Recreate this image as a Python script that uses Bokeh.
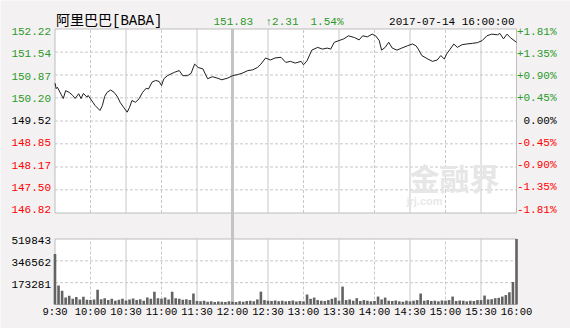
import numpy as np
from bokeh.plotting import figure
from bokeh.models import Range1d
from bokeh.core.properties import value
from bokeh.embed import file_html
from bokeh.resources import INLINE

# ---------------- data ----------------
title_text = "阿里巴巴[BABA]"
last_price_text = "151.83"
change_text = "↑2.31"
change_pct_text = "1.54%"
timestamp_text = "2017-07-14 16:00:00"
prev_close = 149.52

price_ticks = [152.22, 151.54, 150.87, 150.20, 149.52, 148.85, 148.17, 147.50, 146.82]
price_labels = ["152.22", "151.54", "150.87", "150.20", "149.52", "148.85", "148.17", "147.50", "146.82"]
pct_labels = ["+1.81%", "+1.35%", "+0.90%", "+0.45%", "0.00%", "-0.45%", "-0.90%", "-1.35%", "-1.81%"]

vol_ticks = [519843, 346562, 173281]
vol_labels = ["519843", "346562", "173281"]

time_ticks = [0, 30, 60, 90, 120, 150, 180, 210, 240, 270, 300, 330, 360, 390]
time_labels = ["9:30", "10:00", "10:30", "11:00", "11:30", "12:00", "12:30",
               "13:00", "13:30", "14:00", "14:30", "15:00", "15:30", "16:00"]

price_minutes = [0, 1, 2, 7, 9, 12, 15, 17, 20, 22, 24, 27, 28, 32, 34, 38, 40, 42, 44, 47,
                 50, 53, 55, 58, 61, 63, 65, 68, 71, 74, 77, 79, 82, 85, 88, 90, 92, 95, 98, 101,
                 105, 108, 112, 115, 118, 121, 125, 127, 129, 133, 137, 141, 146, 150, 154, 158, 163, 167, 171, 174,
                 178, 182, 186, 191, 195, 199, 203, 208, 210, 213, 217, 222, 226, 230, 233, 236, 240, 244, 248, 253,
                 257, 260, 264, 268, 271, 274, 276, 279, 282, 285, 289, 293, 298, 302, 305, 307, 310, 315, 319, 323,
                 326, 329, 331, 334, 337, 340, 344, 348, 353, 357, 361, 365, 369, 374, 376, 379, 382, 385, 390]
price_values = [150.63, 150.47, 150.51, 150.18, 150.41, 150.36, 150.27, 150.18, 150.32, 150.18,
                150.33, 150.22, 150.27, 150.07, 149.97, 149.83, 149.97, 150.24, 150.36, 150.43,
                150.36, 150.22, 150.07, 149.92, 149.78, 149.92, 150.12, 150.07, 150.17, 150.36,
                150.48, 150.46, 150.66, 150.71, 150.68, 150.56, 150.76, 150.85, 150.90, 150.95,
                151.00, 150.85, 150.85, 150.92, 151.19, 151.09, 151.05, 150.90, 150.76, 150.82,
                150.78, 150.73, 150.78, 150.85, 150.88, 150.92, 151.00, 151.02, 151.09, 151.19,
                151.37, 151.31, 151.37, 151.39, 151.24, 151.27, 151.22, 151.27, 151.17, 151.29,
                151.60, 151.68, 151.63, 151.66, 151.63, 151.83, 151.88, 151.93, 152.02, 151.97,
                151.90, 152.02, 151.99, 152.07, 152.02, 151.88, 151.60, 151.68, 151.83, 151.66,
                151.60, 151.66, 151.73, 151.78, 151.73, 151.63, 151.44, 151.34, 151.27, 151.31,
                151.44, 151.34, 151.49, 151.63, 151.78, 151.68, 151.76, 151.78, 151.80, 151.82,
                151.88, 152.02, 152.07, 152.05, 152.09, 151.93, 152.07, 151.96, 151.83]

vol_minutes = list(range(0, 391, 3))
vol_values = [400000, 150000, 110000, 55000, 70000, 45000, 60000, 40000, 62000, 38000,
              35000, 40000, 118000, 42000, 50000, 35000, 45000, 30000, 38000, 45000,
              32000, 40000, 48000, 35000, 42000, 30000, 55000, 45000, 102000, 50000,
              45000, 55000, 40000, 102000, 50000, 45000, 38000, 42000, 35000, 87000,
              28000, 25000, 30000, 22000, 26000, 20000, 24000, 22000, 20000, 25000,
              22000, 20000, 25000, 22000, 28000, 30000, 25000, 40000, 102000, 35000,
              30000, 28000, 32000, 26000, 30000, 25000, 28000, 32000, 24000, 28000,
              25000, 79000, 45000, 55000, 35000, 30000, 28000, 35000, 45000, 55000,
              30000, 142000, 35000, 40000, 30000, 50000, 28000, 35000, 30000, 25000,
              28000, 63000, 40000, 55000, 30000, 28000, 32000, 25000, 22000, 30000,
              25000, 30000, 35000, 87000, 30000, 35000, 28000, 30000, 25000, 32000,
              30000, 35000, 63000, 28000, 32000, 30000, 25000, 30000, 28000, 35000,
              35000, 71000, 40000, 42000, 50000, 53000, 63000, 75000, 97000, 179000, 519843]

# ---------------- layout (pixels) ----------------
W, H = 570, 328
PX0, PX1 = 54.5, 516.0
PY0, PY1 = 28.5, 212.5
VY0, VY1 = 238.5, 304.0

TMAX = 390
pmax, pmin = price_ticks[0], price_ticks[-1]
vmax = vol_ticks[0]

ppm = (PX1 - PX0) / TMAX
x_start = -PX0 / ppm
x_end = TMAX + (W - PX1) / ppm
pp = (pmax - pmin) / (PY1 - PY0)
y_end = pmax + PY0 * pp
y_start = pmin - (H - PY1) * pp
vp = vmax / (VY1 - VY0)
v_end = vmax + VY0 * vp
v_start = -(H - VY1) * vp
p_at_vol0 = y_end - VY1 * pp

BG = "#f3f1f1"
GRID = "#c8c8c8"
BORDER = "#bdbdbd"
GREEN = "#2b9a2b"
RED = "#ff0000"
BLACK = "#000000"
MONO = value("Liberation Mono")
FS = value("11px")
FS_T = value("10.5px")

p = figure(width=W, height=H, x_range=Range1d(x_start, x_end), y_range=Range1d(y_start, y_end),
           output_backend="svg", toolbar_location=None, title=None,
           x_axis_location=None, y_axis_location=None, min_border=0)
p.extra_y_ranges = {"vol": Range1d(v_start, v_end)}
p.grid.visible = False
p.outline_line_color = None
p.background_fill_color = BG
p.border_fill_color = BG

# panels
p.quad(left=[0], right=[TMAX], bottom=[pmin], top=[pmax], fill_color="white", line_color=BORDER, line_width=1)
p.quad(left=[0], right=[TMAX], bottom=[0], top=[vmax], fill_color="white", line_color=BORDER,
       line_width=1, y_range_name="vol")

# horizontal grid
inner_p = price_ticks[1:-1]
p.segment(x0=[0] * len(inner_p), x1=[TMAX] * len(inner_p), y0=inner_p, y1=inner_p,
          line_color=GRID, line_dash="3 2", line_width=1)
inner_v = vol_ticks[1:]
p.segment(x0=[0] * len(inner_v), x1=[TMAX] * len(inner_v), y0=inner_v, y1=inner_v,
          line_color=GRID, line_dash="3 2", line_width=1, y_range_name="vol")

# vertical grid
dashed = [t for t, l in zip(time_ticks[1:-1], time_labels[1:-1]) if l.endswith(":00") and l != "12:00"]
solid = [t for t, l in zip(time_ticks[1:-1], time_labels[1:-1]) if l.endswith(":30")]
noon = [t for t, l in zip(time_ticks, time_labels) if l == "12:00"]
p.segment(x0=dashed, x1=dashed, y0=[pmin] * len(dashed), y1=[pmax] * len(dashed),
          line_color=GRID, line_dash="3 2")
p.segment(x0=dashed, x1=dashed, y0=[0] * len(dashed), y1=[vmax] * len(dashed),
          line_color=GRID, line_dash="3 2", y_range_name="vol")
p.segment(x0=solid, x1=solid, y0=[pmin] * len(solid), y1=[pmax] * len(solid), line_color=GRID)
p.segment(x0=solid, x1=solid, y0=[0] * len(solid), y1=[vmax] * len(solid), line_color=GRID,
          y_range_name="vol")
p.segment(x0=noon, x1=noon, y0=[p_at_vol0], y1=[pmax], line_color="#c4c4c4", line_width=3)

# watermark
p.text(x=[TMAX], y=[pmin], text=["金融界"], text_align="center", text_baseline="middle",
       x_offset=-62, y_offset=-36, text_font=value("Noto Sans CJK SC"), text_font_size=value("30px"),
       text_font_style="bold", text_color="#e6e6e6")
p.text(x=[TMAX], y=[pmin], text=["jrj.com"], text_align="center", text_baseline="middle",
       x_offset=-92, y_offset=-12, text_font=value("Liberation Sans"), text_font_size=value("11px"),
       text_font_style="bold", text_color="#e8e8e8")

# volume bars
p.vbar(x=vol_minutes, top=vol_values, bottom=0, width=2.2, fill_color="#636363", line_color=None,
       y_range_name="vol")

# price line
p.line(x=price_minutes, y=price_values, line_color="#1e1e1e", line_width=1)

# price labels (left) and pct labels (right)
def side_color(v):
    if abs(v - prev_close) < 1e-9:
        return BLACK
    return GREEN if v > prev_close else RED

colors = [side_color(v) for v in price_ticks]
n = len(price_ticks) - 1
offs = [2.5 - 6.0 * i / n for i in range(n + 1)]
p.text(x=[0] * len(price_ticks), y=price_ticks, text=price_labels, text_align="right",
       text_baseline="middle", x_offset=-4, y_offset=offs, text_color=colors,
       text_font=MONO, text_font_size=FS)
p.text(x=[TMAX] * len(price_ticks), y=price_ticks, text=pct_labels, text_align="right",
       text_baseline="middle", x_offset=40, y_offset=offs, text_color=colors,
       text_font=MONO, text_font_size=FS)

# volume labels
p.text(x=[0] * len(vol_ticks), y=vol_ticks, text=vol_labels, text_align="right", text_baseline="middle",
       x_offset=-4, y_offset=1.5, text_color=BLACK, text_font=MONO, text_font_size=FS, y_range_name="vol")

# time labels
p.text(x=time_ticks, y=[0] * len(time_ticks), text=time_labels, text_align="center",
       text_baseline="middle", y_offset=7.5, text_color=BLACK, text_font=MONO, text_font_size=FS_T,
       y_range_name="vol")

# header
p.text(x=[0], y=[pmax], text=[title_text], text_align="left", text_baseline="middle",
       x_offset=1, y_offset=-8.5, text_color=BLACK,
       text_font=value("Liberation Mono, Noto Sans CJK SC"), text_font_size=value("14px"))
p.text(x=[0, 0, 0], y=[pmax] * 3, text=[last_price_text, change_text, change_pct_text],
       text_align="left", text_baseline="middle", x_offset=[158.5, 210.5, 255.5], y_offset=-7.5,
       text_color=GREEN, text_font=MONO, text_font_size=FS)
p.text(x=[TMAX], y=[pmax], text=[timestamp_text], text_align="right", text_baseline="middle",
       x_offset=-2, y_offset=-7.5, text_color=BLACK, text_font=MONO, text_font_size=FS)

open("out.html", "w").write(file_html(p, INLINE))
